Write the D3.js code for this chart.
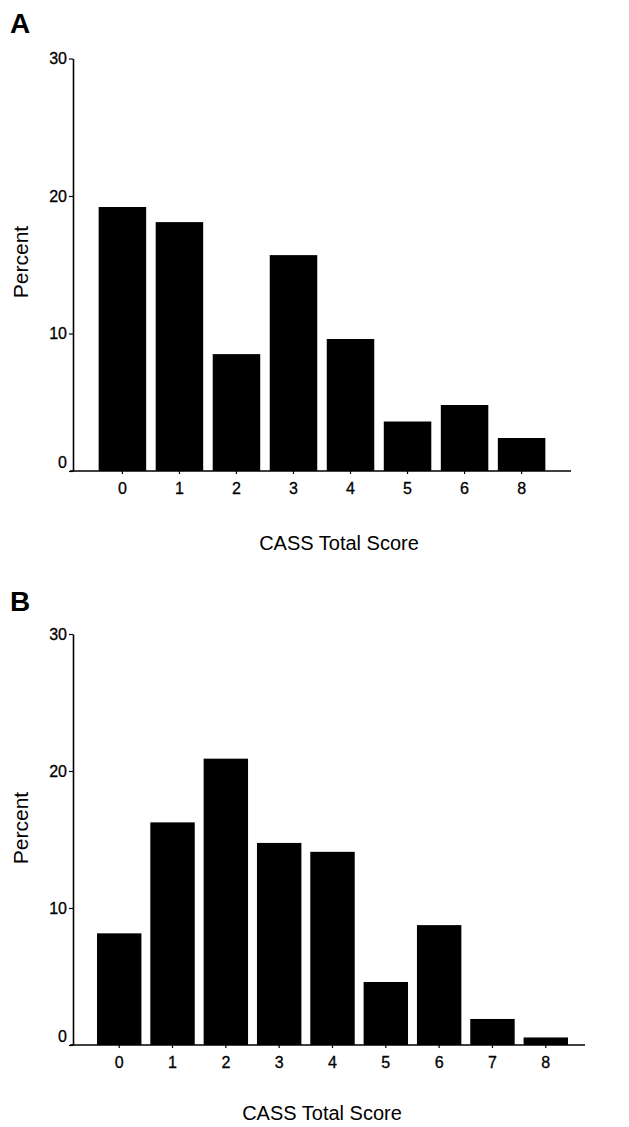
<!DOCTYPE html>
<html>
<head>
<meta charset="utf-8">
<script src="https://cdn.jsdelivr.net/npm/d3@7"></script>
<style>
  body { margin: 0; background: #fff; }
  text { font-family: "Liberation Sans", Arial, sans-serif; fill: #000; }
</style>
</head>
<body>
<div id="chart"></div>
<script>
// CASS total score distributions
const scoresA = ["0", "1", "2", "3", "4", "5", "6", "8"];
const percentA = [19.2, 18.1, 8.5, 15.7, 9.6, 3.6, 4.8, 2.4];

const scoresB = ["0", "1", "2", "3", "4", "5", "6", "7", "8"];
const percentB = [8.15, 16.25, 20.9, 14.75, 14.1, 4.6, 8.75, 1.9, 0.55];

const yTicks = [0, 10, 20, 30];

const width = 629;
const height = 1127;

const svg = d3.select("#chart").append("svg")
    .attr("width", width)
    .attr("height", height);

function drawPanel(letter, cats, vals, opts) {
    const g = svg.append("g");

    const y = d3.scaleLinear().domain([0, 30]).range([opts.base, opts.base - 30 * opts.unit]);
    const x = d3.scaleBand().domain(cats)
        .range([opts.left, opts.right])
        .paddingInner(0.167)
        .paddingOuter(0.45);

    g.selectAll(".bar")
        .data(vals)
        .enter().append("rect")
        .attr("class", "bar")
        .attr("x", (d, i) => x(cats[i]))
        .attr("y", d => y(d))
        .attr("width", x.bandwidth())
        .attr("height", d => y(0) - y(d))
        .attr("fill", "#000");

    // y axis
    const yAxis = g.append("g")
        .attr("transform", `translate(${opts.left}, 0)`)
        .call(d3.axisLeft(y).tickValues(yTicks).tickSize(4).tickSizeOuter(0).tickPadding(2));
    yAxis.select(".domain").attr("stroke-width", 1.6);
    yAxis.selectAll(".tick line").attr("stroke-width", 1.2);
    yAxis.selectAll(".tick text")
        .style("font-size", "16px")
        .style("stroke", "#000").style("stroke-width", 0.3)
        .attr("dy", d => d === 0 ? "-0.2em" : "0.32em");

    // x axis
    const xAxis = g.append("g")
        .attr("transform", `translate(0, ${opts.base})`)
        .call(d3.axisBottom(x).tickSize(3).tickSizeOuter(0).tickPadding(9));
    xAxis.select(".domain").remove();
    xAxis.selectAll(".tick line").attr("stroke-width", 1.2);
    xAxis.selectAll(".tick text")
        .style("font-size", "16px")
        .style("stroke", "#000").style("stroke-width", 0.3);
    g.append("line")
        .attr("x1", opts.left - 3).attr("x2", opts.axisEnd)
        .attr("y1", opts.base).attr("y2", opts.base)
        .attr("stroke", "#000").attr("stroke-width", 1.6);

    // labels
    g.append("text")
        .attr("x", 10).attr("y", opts.letterY)
        .style("font-size", "28px").style("font-weight", "bold")
        .text(letter);

    g.append("text")
        .attr("transform", `translate(28, ${opts.percentY}) rotate(-90)`)
        .attr("text-anchor", "middle")
        .style("font-size", "21px")
        .text("Percent");

    g.append("text")
        .attr("x", opts.titleX).attr("y", opts.titleY)
        .attr("text-anchor", "middle")
        .style("font-size", "20px")
        .text("CASS Total Score");
}

drawPanel("A", scoresA, percentA, {
    base: 471, unit: 13.75, left: 73, right: 571, axisEnd: 571,
    letterY: 33, percentY: 262, titleX: 339, titleY: 550
});

drawPanel("B", scoresB, percentB, {
    base: 1045, unit: 13.7, left: 73, right: 592, axisEnd: 585,
    letterY: 611, percentY: 828, titleX: 322, titleY: 1120
});
</script>
</body>
</html>
